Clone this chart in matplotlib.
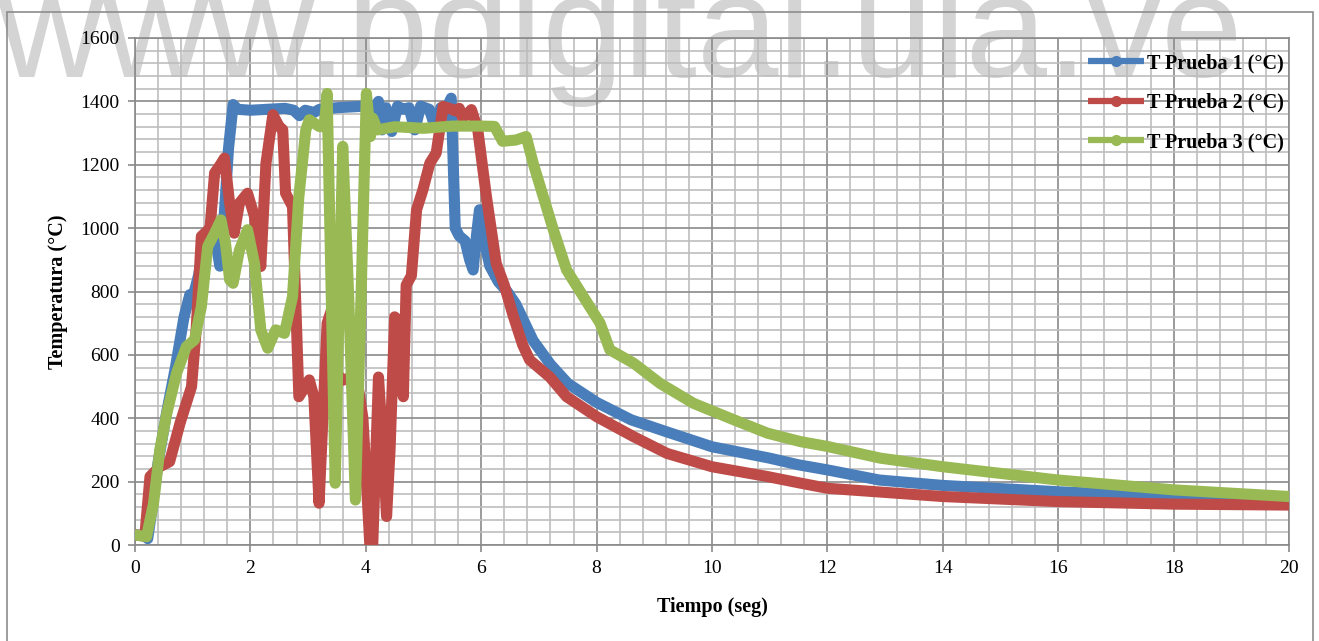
import matplotlib
matplotlib.use("Agg")
import matplotlib.pyplot as plt
from matplotlib.patches import Rectangle
from matplotlib.lines import Line2D
from matplotlib.ticker import MultipleLocator

# ---------------- data ----------------
t1 = [0.00, 0.17, 0.22, 0.30, 0.40, 0.55, 0.70, 0.85, 0.95, 1.00, 1.10, 1.20, 1.30, 1.40, 1.47,
      1.55, 1.62, 1.70, 1.78, 2.00, 2.30, 2.60, 2.75, 2.85, 2.95, 3.10, 3.20, 3.50, 3.80, 4.00,
      4.15, 4.22, 4.28, 4.35, 4.45, 4.55, 4.65, 4.75, 4.85, 4.95, 5.10, 5.20, 5.30, 5.40, 5.48,
      5.55, 5.62, 5.72, 5.80, 5.86, 5.92, 5.97, 6.05, 6.15, 6.30, 6.45, 6.60, 6.90, 7.20, 7.50,
      8.00, 8.60, 9.20, 10.00, 11.00, 11.50, 12.00, 12.90, 14.00, 16.00, 18.00, 20.00]
T1 = [32, 30, 20, 120, 260, 420, 560, 720, 790, 780, 850, 950, 1000, 960, 880,
      1050, 1250, 1390, 1375, 1372, 1375, 1378, 1372, 1355, 1372, 1365, 1375, 1380, 1383, 1385,
      1380, 1400, 1310, 1380, 1305, 1385, 1375, 1380, 1310, 1385, 1375, 1320, 1380, 1378, 1410,
      1000, 975, 960, 900, 868, 980, 1058, 960, 880, 830, 800, 760, 645, 570, 510,
      450, 395, 358, 310, 274, 253, 237, 205, 188, 168, 153, 142]

t2 = [0.00, 0.17, 0.26, 0.43, 0.60, 0.78, 0.98, 1.06, 1.15, 1.24, 1.30, 1.38, 1.48, 1.55, 1.64,
      1.72, 1.81, 1.95, 2.07, 2.18, 2.27, 2.39, 2.50, 2.56, 2.61, 2.73, 2.84, 3.02, 3.10, 3.19,
      3.33, 3.42, 3.50, 3.60, 3.75, 3.85, 3.95, 4.07, 4.12, 4.22, 4.30, 4.36, 4.42, 4.50, 4.60,
      4.65, 4.70, 4.79, 4.88, 4.99, 5.11, 5.22, 5.34, 5.45, 5.55, 5.62, 5.68, 5.76, 5.83, 5.94,
      6.09, 6.26, 6.40, 6.55, 6.72, 6.84, 7.19, 7.48, 8.00, 8.64, 9.22, 10.00, 10.96, 11.54,
      12.00, 14.00, 16.00, 18.00, 20.00]
T2 = [32, 28, 216, 247, 263, 384, 500, 679, 974, 989, 1000, 1174, 1200, 1221, 1079,
      984, 1079, 1110, 1037, 879, 1205, 1358, 1320, 1311, 1110, 1068, 468, 521, 468, 132,
      700, 750, 540, 520, 530, 520, 400, 0, 0, 530, 300, 90, 300, 720, 700,
      468, 820, 850, 1058, 1121, 1205, 1237, 1384, 1378, 1370, 1378, 1347, 1360, 1374, 1311,
      1100, 889, 820, 726, 631, 584, 530, 468, 405, 342, 289, 247, 216, 195,
      179, 153, 137, 129, 126]

t3 = [0.00, 0.20, 0.32, 0.43, 0.55, 0.72, 0.89, 1.03, 1.15, 1.26, 1.38, 1.49, 1.57, 1.64, 1.70,
      1.81, 1.95, 2.07, 2.18, 2.30, 2.44, 2.59, 2.73, 2.84, 2.96, 3.02, 3.19, 3.28, 3.33, 3.40,
      3.47, 3.53, 3.60, 3.70, 3.82, 3.92, 4.01, 4.08, 4.12, 4.20, 4.50, 5.00, 5.50, 6.00, 6.23,
      6.37, 6.60, 6.78, 6.90, 7.25, 7.48, 8.06, 8.23, 8.64, 9.10, 9.68, 10.38, 10.96, 11.54,
      12.00, 12.92, 14.00, 16.00, 18.00, 20.00]
T3 = [32, 26, 130, 300, 415, 542, 626, 647, 752, 942, 984, 1026, 950, 837, 826,
      931, 995, 889, 679, 621, 679, 668, 784, 1100, 1310, 1342, 1321, 1320, 1425, 800,
      195, 700, 1258, 800, 142, 800, 1425, 1289, 1347, 1310, 1320, 1315, 1322, 1322, 1321,
      1274, 1278, 1289, 1205, 995, 868, 700, 616, 574, 510, 447, 395, 353, 326,
      311, 274, 247, 205, 174, 153]

series_labels = ["T Prueba 1 (°C)", "T Prueba 2 (°C)", "T Prueba 3 (°C)"]
series_colors = ["#4a7ebb", "#be4b48", "#98b954"]
x_label = "Tiempo (seg)"
y_label = "Temperatura (°C)"
watermark = "www.bdigital.ula.ve"

# ---------------- figure ----------------
W, H = 1319, 641
fig = plt.figure(figsize=(W / 100, H / 100), dpi=100)
fig.patch.set_facecolor("white")

def fx(px):
    return px / W

def fy(py):
    return 1 - py / H

# watermark behind everything
fig.text(fx(-3), fy(77), watermark, fontsize=105.5, color="#d4d4d4",
         family="Liberation Sans", ha="left", va="baseline", zorder=-5)

# chart area border
fig.patches.append(Rectangle((fx(7), fy(660)), fx(1313) - fx(7), fy(12) - fy(660),
                             transform=fig.transFigure, fill=False,
                             edgecolor="#8c8c8c", linewidth=1.2, zorder=-4))

L, R, T, B = 135, 1289, 38, 545
ax = fig.add_axes([fx(L), fy(B), fx(R) - fx(L), fy(T) - fy(B)])
ax.set_facecolor("none")

ax.set_xlim(0, 20)
ax.set_ylim(0, 1600)
ax.xaxis.set_major_locator(MultipleLocator(2))
ax.xaxis.set_minor_locator(MultipleLocator(0.4))
ax.yaxis.set_major_locator(MultipleLocator(200))
ax.yaxis.set_minor_locator(MultipleLocator(40))

ax.grid(which="minor", color="#bdbdbd", linewidth=1.2, zorder=0)
ax.grid(which="major", color="#8a8a8a", linewidth=1.2, zorder=0)
ax.set_axisbelow(True)

for s in ax.spines.values():
    s.set_color("#8a8a8a")
    s.set_linewidth(1.2)

ax.tick_params(which="major", direction="out", length=5, width=1.2, color="#8a8a8a",
               labelsize=14, pad=6)
ax.tick_params(which="minor", length=0)
for lab in ax.get_xticklabels() + ax.get_yticklabels():
    lab.set_family("Liberation Serif")

for tt, TT, lab, col in zip([t1, t2, t3], [T1, T2, T3], series_labels, series_colors):
    ax.plot(tt, TT, color=col, linewidth=8.0, solid_capstyle="round",
            solid_joinstyle="round", label=lab, zorder=3)

ax.set_xlabel(x_label, family="Liberation Serif", fontweight="bold", fontsize=14.5, labelpad=14)
ax.set_ylabel(y_label, family="Liberation Serif", fontweight="bold", fontsize=14.5, labelpad=9)

handles = [Line2D([0], [0], color=c, linewidth=4.5, marker="o", markersize=7,
                  solid_capstyle="butt", markerfacecolor=c, markeredgecolor=c)
           for c in series_colors]
leg = ax.legend(handles, series_labels, loc="upper right",
                bbox_to_anchor=(fx(1284), fy(53)), bbox_transform=fig.transFigure,
                frameon=False, handlelength=2.8, handletextpad=0.15, labelspacing=0.98,
                borderaxespad=0, borderpad=0,
                prop={"family": "Liberation Serif", "weight": "bold", "size": 14.5})
leg.set_zorder(10)

fig.savefig("out.png", dpi=100, facecolor="white")
